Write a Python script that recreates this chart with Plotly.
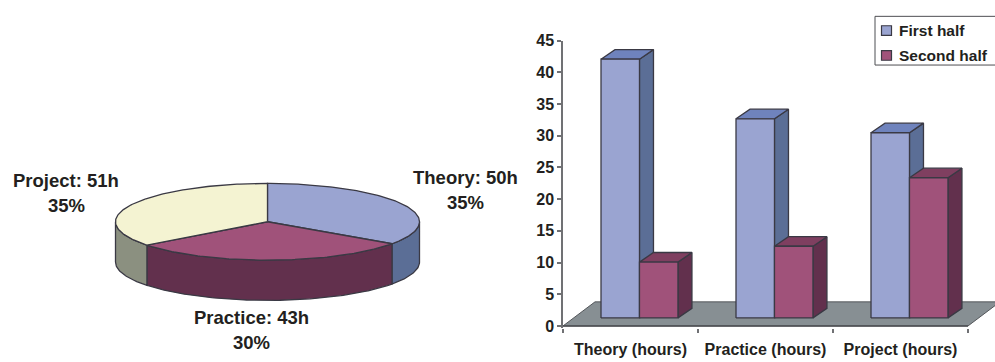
import numpy as np
import plotly.graph_objects as go

# Hours per component of the course
components = ["Theory", "Practice", "Project"]
total_hours = [50, 43, 51]
share_labels = ["35%", "30%", "35%"]

# Hours per semester half
bar_categories = ["Theory (hours)", "Practice (hours)", "Project (hours)"]
first_half = [40.8, 31.4, 29.2]
second_half = [8.8, 11.3, 22.1]
series_names = ["First half", "Second half"]
y_ticks = [0, 5, 10, 15, 20, 25, 30, 35, 40, 45]

W, H = 995, 362
INK = "#231f20"
EDGE = "#3a3944"
AXIS = "#707174"
FONT = "Liberation Sans"

PIE_FACE = ["#9aa4d1", "#a0527a", "#f4f3d2"]
PIE_SIDE = ["#5b6e96", "#62304d", "#8b9080"]
BAR_FACE = ["#9aa4d1", "#a0527a"]
BAR_SIDE = ["#5b6e96", "#62304d"]
BAR_TOP = ["#6f83bd", "#7f3f60"]
FLOOR = "#878f93"


def hx(px):
    return px / W


def vy(py):
    return 1 - py / H


fig = go.Figure()


def poly(xs, ys, fill, xaxis, yaxis, color=EDGE, width=1.3):
    fig.add_trace(go.Scatter(
        x=list(xs), y=list(ys), mode="lines", fill="toself", fillcolor=fill,
        line=dict(color=color, width=width), xaxis=xaxis, yaxis=yaxis,
        showlegend=False, hoverinfo="skip",
    ))


# --- Tilted pie: unit ellipse on its own hidden axes, slices clockwise from the top ---
PIE_CX, PIE_CY, PIE_RX, PIE_RY, PIE_DEPTH = 267.5, 223.0, 152.0, 40.0, 1.05
pie_left, pie_right, pie_top, pie_bottom = 100.0, 435.0, 170.0, 320.0

edges = np.cumsum([0] + total_hours) / sum(total_hours) * 2 * np.pi


def rim(a, b):
    t = np.linspace(a, b, max(int((b - a) * 60), 2))
    return np.sin(t), np.cos(t)


# Rim walls are only visible on the near half of the ellipse
for i in range(len(total_hours)):
    a = max(edges[i], np.pi / 2)
    b = min(edges[i + 1], 3 * np.pi / 2)
    if b > a:
        x, y = rim(a, b)
        poly(np.r_[x, x[::-1], x[0]], np.r_[y, y[::-1] - PIE_DEPTH, y[0]],
             PIE_SIDE[i], "x2", "y2")

for i in range(len(total_hours)):
    x, y = rim(edges[i], edges[i + 1])
    poly(np.r_[0, x, 0], np.r_[0, y, 0], PIE_FACE[i], "x2", "y2")

# --- Pseudo-3D bars: depth offsets are expressed in axis units ---
DEPTH_X, DEPTH_Y = 0.1037, 1.51          # bar depth
FLOOR_X, FLOOR_Y = 0.237, 3.8            # floor depth
FRONT_X, FRONT_Y = -0.2185, 1.27         # offset of the first bar's front-left foot
BAR_W = 0.285

floor_x = [-0.5, 2.5, 2.5 + FLOOR_X, -0.5 + FLOOR_X, -0.5]
floor_y = [0, 0, FLOOR_Y, FLOOR_Y, 0]
poly(floor_x, floor_y, FLOOR, "x", "y", color="#55585c", width=1)

for s, values in enumerate([first_half, second_half]):
    for c, v in enumerate(values):
        x0 = c + FRONT_X + s * BAR_W
        x1 = x0 + BAR_W
        y0 = FRONT_Y
        y1 = FRONT_Y + v
        poly([x1, x1 + DEPTH_X, x1 + DEPTH_X, x1, x1],
             [y0, y0 + DEPTH_Y, y1 + DEPTH_Y, y1, y0], BAR_SIDE[s], "x", "y")
        poly([x0, x0 + DEPTH_X, x1 + DEPTH_X, x1, x0],
             [y1, y1 + DEPTH_Y, y1 + DEPTH_Y, y1, y1], BAR_TOP[s], "x", "y")
        poly([x0, x1, x1, x0, x0], [y0, y0, y1, y1, y0], BAR_FACE[s], "x", "y")

# Category axis baseline stops at the last category boundary
fig.add_trace(go.Scatter(
    x=[-0.5, 2.5], y=[0, 0], mode="lines", line=dict(color="#4d4e52", width=1.5),
    showlegend=False, hoverinfo="skip", xaxis="x", yaxis="y",
))

# Axis geometry: one category spans 135 px, one hour 6.616 px
PX_CAT = 135.0
PX_HOUR = 6.616
AX_LEFT, AX_ZERO, AX_TOP = 563.0, 331.7, 34.0
y_low = -0.3
tick_font = dict(family=FONT, size=16, color=INK, weight=700)

annotations = []
pie_label_pos = [(465.5, 177, 203), (251, 323, 349), (66, 180, 206)]
for name, hours, share, (cx, y1, y2) in zip(components, total_hours, share_labels, pie_label_pos):
    for text, py in ((f"{name}: {hours}h", y1), (share, y2)):
        annotations.append(dict(
            text=text, x=hx(cx), y=vy(py), xref="paper", yref="paper",
            xanchor="center", yanchor="middle", showarrow=False,
            font=dict(family=FONT, size=18.5, color=INK, weight=700),
        ))

# Legend box with hand-placed swatches so the box can run to the page edge
LEG_L, LEG_T, LEG_B = 875.0, 8.7, 59.5
shapes = [dict(type="rect", xref="paper", yref="paper",
               x0=hx(LEG_L), x1=hx(W + 6), y0=vy(LEG_T), y1=vy(LEG_B),
               line=dict(color="#4d4e52", width=1), fillcolor="white")]
for name, color, py in zip(series_names, BAR_FACE, (23.5, 49.5)):
    shapes.append(dict(type="rect", xref="paper", yref="paper",
                       x0=hx(881.5), x1=hx(891.5), y0=vy(py - 5), y1=vy(py + 5),
                       line=dict(color=EDGE, width=1.2), fillcolor=color))
    annotations.append(dict(
        text=name, x=hx(896.5), y=vy(py), xref="paper", yref="paper",
        xanchor="left", yanchor="middle", showarrow=False,
        font=dict(family=FONT, size=15.5, color=INK, weight=700),
    ))

fig.update_layout(
    width=W, height=H, margin=dict(l=0, r=0, t=0, b=0),
    paper_bgcolor="white", plot_bgcolor="rgba(0,0,0,0)", showlegend=False,
    shapes=shapes, annotations=annotations,
    xaxis=dict(
        domain=[hx(AX_LEFT), 1], range=[-0.5, -0.5 + (W - AX_LEFT) / PX_CAT],
        tickmode="array", tickvals=[0, 1, 2], ticktext=bar_categories,
        ticks="", ticklen=0, showgrid=False, zeroline=False, showline=False,
        tickfont=tick_font, ticklabelstandoff=10,
        minor=dict(tickmode="array", tickvals=[-0.5, 0.5, 1.5, 2.5], ticks="outside",
                   ticklen=4, tickwidth=1.5, tickcolor=AXIS, showgrid=False),
    ),
    yaxis=dict(
        domain=[vy(AX_ZERO - y_low * PX_HOUR), vy(AX_TOP)], range=[y_low, 45],
        tickmode="array", tickvals=y_ticks, ticks="outside", ticklen=4, tickwidth=1.5,
        tickcolor=AXIS, showline=True, linecolor=AXIS, linewidth=1.5,
        showgrid=False, zeroline=False, tickfont=tick_font,
    ),
    xaxis2=dict(
        domain=[hx(pie_left), hx(pie_right)],
        range=[(pie_left - PIE_CX) / PIE_RX, (pie_right - PIE_CX) / PIE_RX],
        visible=False, anchor="y2",
    ),
    yaxis2=dict(
        domain=[vy(pie_bottom), vy(pie_top)],
        range=[(PIE_CY - pie_bottom) / PIE_RY, (PIE_CY - pie_top) / PIE_RY],
        visible=False, anchor="x2",
    ),
)

fig.write_html("out.html", config=dict(displayModeBar=False))
